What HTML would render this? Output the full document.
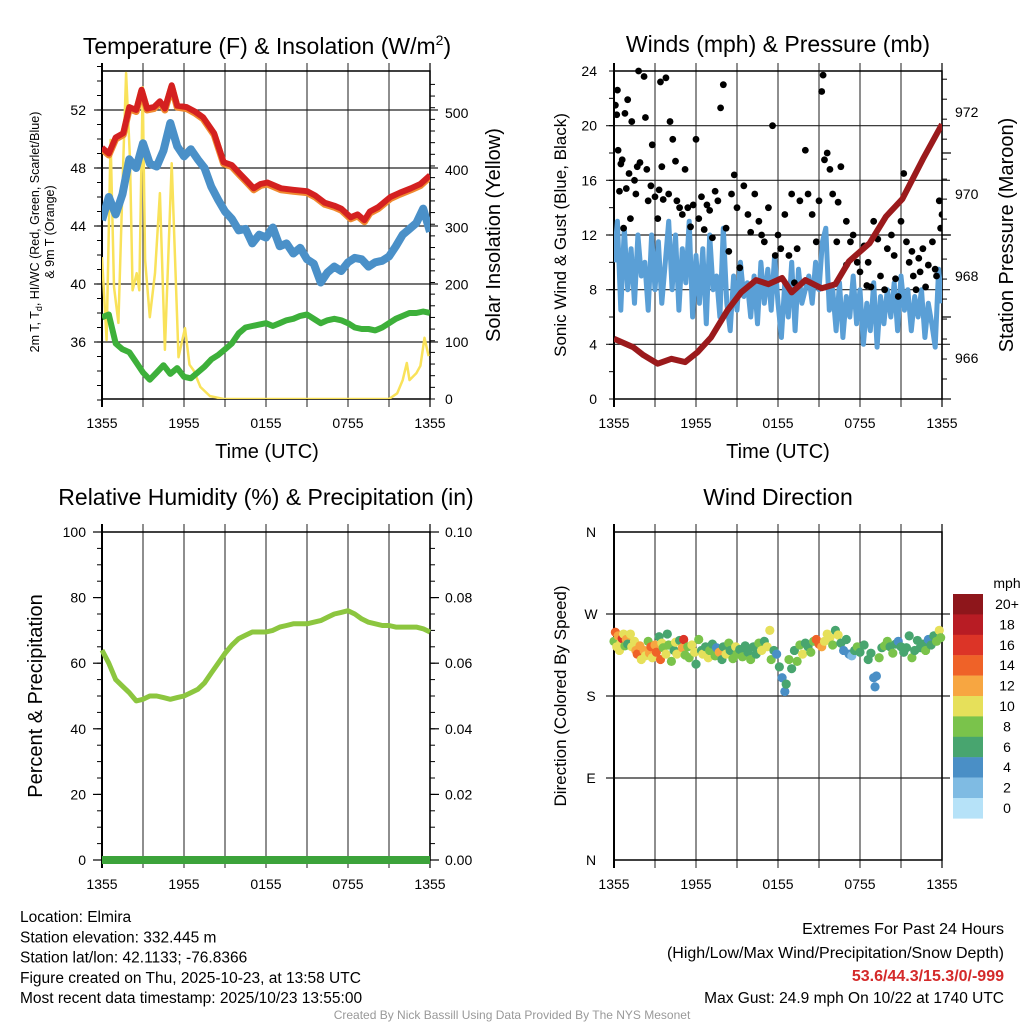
<!DOCTYPE html>
<html><head><meta charset="utf-8">
<style>
html,body{margin:0;padding:0;background:#fff;}
svg{display:block;font-family:"Liberation Sans",Arial,sans-serif;}
</style></head>
<body>
<svg id="root" width="1024" height="1024" viewBox="0 0 1024 1024" xmlns="http://www.w3.org/2000/svg"></svg>
<script>
// ---------- DATA ----------
const xTickLabels = ["1355","1955","0155","0755","1355"];
// Temperature panel
const redTimes = [0,0.5,1,1.56,2,2.5,2.9,3.3,3.8,4.24,4.6,5.1,5.5,6.2,6.8,7.4,8.2,8.9,9.5,10.1,10.6,11.1,11.6,12.1,13.1,14,15,15.6,16.3,17,17.5,18.2,18.7,19.2,19.6,20.2,21.1,21.8,22.6,23.3,24];
const redTemp = [49.4,49.0,50.1,50.4,52.2,52.0,53.4,52.1,52.2,52.6,52.1,53.7,52.3,52.2,51.9,51.5,50.4,48.4,48.2,47.6,47.1,46.6,46.9,47.0,46.6,46.5,46.4,46.1,45.6,45.4,45.2,44.6,44.8,44.4,45.0,45.3,46.0,46.3,46.6,46.9,47.5];
const halfHourTimes = [0,0.5,1,1.5,2,2.5,3,3.5,4,4.5,5,5.5,6,6.5,7,7.5,8,8.5,9,9.5,10,10.5,11,11.5,12,12.5,13,13.5,14,14.5,15,15.5,16,16.5,17,17.5,18,18.5,19,19.5,20,20.5,21,21.5,22,22.5,23,23.5,24];
const blueTemp = [44.4,46.0,44.8,46.2,48.6,48.0,49.7,48.3,48.1,49.2,51.1,49.5,48.8,49.3,48.6,48.0,46.7,45.8,45.0,44.5,43.7,43.8,42.8,43.4,43.2,43.9,42.6,42.8,42.1,42.5,41.7,41.4,40.1,40.8,41.2,40.9,41.5,41.8,41.7,41.2,41.5,41.6,41.9,42.6,43.4,43.8,44.2,45.2,43.6];
const greenDew = [37.7,37.9,35.9,35.5,35.3,34.6,33.9,33.4,33.9,34.4,33.8,34.2,33.6,33.5,33.9,34.3,34.8,35.1,35.5,35.9,36.6,37.0,37.1,37.2,37.3,37.1,37.3,37.5,37.6,37.8,37.9,37.6,37.3,37.5,37.6,37.5,37.3,37.0,36.9,36.9,36.8,37.0,37.3,37.6,37.8,38.0,38.0,38.1,38.0];
const solarTimes = [0,0.34,0.63,0.88,1.2,1.56,1.76,2.05,2.24,2.54,2.73,2.98,3.15,3.5,3.88,4.24,4.6,5.1,5.6,6.07,6.4,6.7,7.2,7.9,8.9,21.0,21.6,22.0,22.3,22.5,23.0,23.3,23.6,23.9];
const solarVals = [248,103,453,196,133,418,570,418,190,220,190,545,243,143,220,360,86,412,73,124,60,50,21,5,0,0,10,33,63,33,45,58,107,75];
// Winds panel
const quarterTimes = Array.from({length:97},(_, i)=>i*0.25);
const sonicWind = [10,13,6.5,12.5,8,11,7,12,9, 10,6.5,12,8,11.5,7,10,13, 8,12,6.5,11,8.5,13,6,10.5, 7,11,5.5,12,8,9,6,12.5, 7,5,9,6.5,10,7.5,8.5,6, 9,5.5,10,7,9.5,6.5,10.5,7, 4.5,8.5,6,10,5,9.5,7,8, 9,7,10,8,11.5,12.5,6.5,8, 5,8.5,4.5,7.5,6,9,5.5,8, 4,7,5,8.5,3.8,7.5,5.5,8, 6,8.5,5,9,6.5,8,5,7.5, 6,8,4.5,7,5.5,3.8,9.5,7];
const gustTimes = [0.1,0.2,0.25,0.3,0.4,0.5,0.6,0.7,0.8,0.9,1.0,1.1,1.2,1.3,1.5,1.6,1.7,1.8,1.9,2.2,2.3,2.4,2.5,2.7,2.8,3.0,3.2,3.3,3.4,3.5,3.6,3.8,4.0,4.1,4.3,4.5,4.6,4.8,5.0,5.2,5.4,5.6,5.8,6.0,6.2,6.4,6.6,6.8,7.0,7.2,7.4,7.6,7.8,8.0,8.2,8.4,8.6,8.8,9.0,9.2,9.5,9.8,10.0,10.3,10.6,10.8,11.0,11.3,11.6,11.8,12.0,12.2,12.5,12.8,13.0,13.2,13.4,13.6,14.0,14.2,14.5,14.8,15.0,15.2,15.3,15.4,15.6,15.8,16.0,16.4,16.6,17.0,17.3,17.5,17.8,18.0,18.3,18.6,18.8,19.0,19.3,19.5,19.8,20.0,20.3,20.5,20.8,21.0,21.2,21.4,21.6,21.9,22.1,22.3,22.6,22.8,23.0,23.3,23.6,23.8,23.9,24,23.5,22.4,21.8,20.6,18.5,17.0,16.3];
const gustVals = [21.5,20.8,22.6,18.2,15.2,17.2,17.5,12.5,20.9,15.4,21.9,16.5,13.2,20.3,16.0,15.0,17.0,24.0,17.3,23.6,20.6,16.8,14.5,15.6,18.6,14.8,13.2,15.3,23.2,17.0,14.6,23.5,15.0,20.3,19.0,17.4,14.5,14.0,13.5,16.8,14.0,12.6,14.2,19.0,13.2,14.8,12.4,14.2,13.8,11.8,15.2,14.5,21.3,23.0,12.5,10.8,15.0,16.4,14.0,9.6,15.6,13.5,12.2,15.0,13.0,12.0,11.5,14.0,20.0,10.5,12.0,11.0,13.5,10.5,15.0,8.5,11.0,14.5,18.2,15.0,13.5,11.5,14.5,22.5,23.7,17.5,18.0,16.8,15.0,14.4,17.0,13.0,11.5,12.0,10.0,9.3,11.2,10.0,8.2,13.0,11.7,9.0,8.0,11.0,12.0,10.5,7.5,13.0,16.5,11.5,10.0,9.0,8.0,10.3,11.0,8.2,9.8,11.5,9.0,14.5,12.5,13.5,9.5,9.3,10.8,8.8,8.3,9.8,11.5];
const pressTimes = [0,1.41,2.15,3.2,4.2,5.2,6.1,7.1,8.3,9.3,10.4,11.3,12.3,13,14,15.2,16.2,17.2,18.7,19.9,21.1,22.6,24];
const pressVals = [966.47,966.26,966.07,965.86,965.98,965.9,966.14,966.5,967.16,967.6,967.9,967.8,967.95,967.6,967.9,967.7,967.8,968.36,968.8,969.45,969.88,970.85,971.7];
// RH panel
const rhVals = [64,60,55,53,51,48.5,49,50,50,49.5,49,49.5,50,51,52,54,57,60,63,65.5,67.5,68.5,69.5,69.5,69.5,70,71,71.5,72,72,72,72.5,73,74,75,75.5,76,75,73.5,72.5,72,71.5,71.5,71,71,71,71,70.5,69.5];
const precipVals = [0,0,0,0,0,0,0,0,0,0,0,0,0,0,0,0,0,0,0,0,0,0,0,0,0,0,0,0,0,0,0,0,0,0,0,0,0,0,0,0,0,0,0,0,0,0,0,0,0];
// Wind direction panel
const dirTimes = [0.0,0.1,0.2,0.3,0.4,0.5,0.6,0.7,0.8,0.9,1.0,1.2,1.3,1.5,1.6,1.7,1.9,2.0,2.2,2.3,2.5,2.6,2.7,2.8,3.0,3.1,3.3,3.4,3.5,3.6,3.8,3.9,4.0,4.2,4.4,4.5,4.6,4.8,5.0,5.1,5.2,5.4,5.5,5.7,5.9,6.0,6.2,6.4,6.5,6.7,6.9,7.0,7.2,7.4,7.5,7.7,7.9,8.0,8.2,8.4,8.5,8.7,8.9,9.0,9.2,9.4,9.6,9.8,10.0,10.2,10.4,10.6,10.8,11.0,11.2,11.4,11.5,11.7,11.9,12.1,12.3,12.5,12.6,12.8,13.0,13.2,13.4,13.6,13.8,14.0,14.2,14.4,14.6,14.8,15.0,15.2,15.4,15.6,15.8,16.0,16.2,16.4,16.6,16.8,17.0,17.2,17.4,17.6,17.8,18.0,18.3,18.6,18.8,19.0,19.1,19.2,19.4,19.6,19.8,20.0,20.2,20.4,20.6,20.8,21.0,21.2,21.4,21.6,21.8,22.0,22.2,22.4,22.6,22.8,23.0,23.2,23.4,23.6,23.8,23.9];
const dirDeg = [240,250,234,246,230,238,243,248,235,242,237,248,234,240,230,226,235,220,230,224,240,227,234,222,236,228,245,220,238,233,226,248,236,218,230,239,226,241,233,242,225,234,222,236,228,215,242,230,226,234,222,230,237,224,233,228,220,234,226,238,230,221,234,226,231,223,235,228,220,234,226,238,230,240,234,252,220,230,226,212,200,185,193,220,210,230,218,236,226,238,234,228,240,242,237,234,240,248,244,236,252,247,238,230,242,226,224,230,234,228,236,220,227,200,190,202,222,233,235,240,234,227,237,240,234,228,233,246,222,230,241,233,237,230,242,236,246,240,252,244];
const dirSpeed = [9,15,10,13,10,11,16,10,8,12,7,11,11,10,13,14,12,10,13,10,8,12,14,10,12,15,7,14,10,8,11,6,8,8,7,10,11,7,13,16,9,8,9,10,10,7,8,7,10,6,11,9,6,8,5,13,6,7,10,8,6,8,10,9,7,8,6,7,8,7,6,8,10,6,10,10,8,6,5,6,4,4,6,8,7,7,8,8,10,7,6,8,8,14,15,13,10,10,10,8,6,10,6,4,6,4,3,6,8,6,6,6,6,4,4,4,8,6,8,8,6,8,6,5,6,6,6,6,8,6,6,6,6,8,4,6,6,8,10,8];
const speedLegendLabels = ["20+","18","16","14","12","10","8","6","4","2","0"];
const speedColors = ["#8e161b","#b81c24","#dc3427","#ef6228","#f7a641","#e6e05a","#7ac34b","#48a56f","#4a8fc6","#7fbbe3","#b6e2f8"];

// ---------- HELPERS ----------
const NS = "http://www.w3.org/2000/svg";
const root = document.getElementById("root");
function mk(tag, attrs, parent){
  const e = document.createElementNS(NS, tag);
  for (const k in attrs) e.setAttribute(k, attrs[k]);
  (parent||root).appendChild(e);
  return e;
}
function txt(str, x, y, size, anchor, parent, extra){
  const t = mk("text", Object.assign({x:x, y:y, "font-size":size, "text-anchor":anchor||"middle", fill:"#000"}, extra||{}), parent);
  t.textContent = str;
  return t;
}
function rtxt(str, cx, cy, size, parent){
  const t = mk("text", {x:0, y:0, "font-size":size, "text-anchor":"middle", fill:"#000", transform:`translate(${cx},${cy}) rotate(-90)`}, parent);
  t.textContent = str;
  return t;
}
function scale(d0,d1,r0,r1){ return v => r0 + (v-d0)*(r1-r0)/(d1-d0); }
function linePath(xs, ys, fx, fy){
  return xs.map((t,i)=>(i?"L":"M")+fx(t).toFixed(1)+","+fy(ys[i]).toFixed(1)).join("");
}
function grid(g, L, R, T, B, hYs){
  for (let i=0;i<=8;i++){
    const x = L + (R-L)*i/8;
    const ln = mk("line",{x1:x,x2:x,y1:T-8,y2:B+8,stroke:(i===0||i===8)?"#000":"#444","stroke-width":(i===0)?2:1.2}, g);
    
    
  }
  hYs.forEach(y=>{
    const ln = mk("line",{x1:L-8,x2:R+8,y1:y,y2:y,stroke:"#222","stroke-width":1.2}, g);
    
    
  });
  const fr = mk("rect",{x:L,y:T,width:R-L,height:B-T,fill:"none",stroke:"#000","stroke-width":1.5}, g);
  
  
}
function xLabels(g, L, R, y){
  xTickLabels.forEach((s,i)=>{
    const t = txt(s, L+(R-L)*i/4, y, 14, "middle", g);
    
    
  });
}
function minorTicks(g, x, y0, y1, n, dir){
  for (let i=0;i<=n;i++){
    const y = y0 + (y1-y0)*i/n;
    const ln = mk("line",{x1:x,x2:x+dir*5,y1:y,y2:y,stroke:"#000","stroke-width":1}, g);
    
    
  }
}

// ---------- PANEL 1: Temperature ----------
{
  const g = mk("g",{});
  
  
  const L=102,R=430,T=71,B=399;
  const fx = scale(0,24,L,R);
  const fy = scale(36,52,342,110);
  const fs = scale(0,500,399,113);
  grid(g,L,R,T,B,[52,48,44,40,36].map(fy));
  minorTicks(g, L, fy(55), fy(32), 23, -1);
  minorTicks(g, R, fs(0), fs(550), 27, 1);
  [52,48,44,40,36].forEach(v=>{ const t=txt(String(v),86,fy(v)+5,14,"end",g);   });
  [0,100,200,300,400,500].forEach(v=>{ const t=txt(String(v),445,fs(v)+5,14,"start",g);   });
  xLabels(g,L,R,428);
  const clip = mk("clipPath",{id:"c1"},g); mk("rect",{x:L,y:T,width:R-L,height:B-T},clip);
  const pg = mk("g",{"clip-path":"url(#c1)"},g);
  const ps = mk("path",{d:linePath(solarTimes,solarVals,fx,fs),fill:"none",stroke:"#f9e25a","stroke-width":2.5,"stroke-linejoin":"round"},pg);
  
  
  const pb = mk("path",{d:linePath(halfHourTimes,blueTemp,fx,fy),fill:"none",stroke:"#4a90c8","stroke-width":8,"stroke-linejoin":"round"},pg);
  
  
  const po = mk("path",{d:linePath(redTimes,redTemp,fx,fy),fill:"none",stroke:"#f08a30","stroke-width":7,"stroke-linejoin":"round",transform:"translate(0,1.5)"},pg);
  
  
  const pr = mk("path",{d:linePath(redTimes,redTemp,fx,fy),fill:"none",stroke:"#d42020","stroke-width":6,"stroke-linejoin":"round"},pg);
  
  
  const pgn = mk("path",{d:linePath(halfHourTimes,greenDew,fx,fy),fill:"none",stroke:"#3db03a","stroke-width":6,"stroke-linejoin":"round"},pg);
  
  
  const tt = mk("text",{x:267,y:54,"font-size":23,"text-anchor":"middle"},g);
  tt.innerHTML = 'Temperature (F) &amp; Insolation (W/m<tspan font-size="14" dy="-9">2</tspan><tspan dy="9">)</tspan>';
  
  
  const xl = txt("Time (UTC)",267,458,20,"middle",g);
  
  
  const yl1 = mk("text",{x:0,y:0,"font-size":12.5,"text-anchor":"middle",transform:"translate(39,232) rotate(-90)"},g);
  yl1.innerHTML = '2m T, T<tspan font-size="9" dy="3">d</tspan><tspan dy="-3">, HI/WC (Red, Green, Scarlet/Blue)</tspan>';
  
  
  const yl2 = rtxt("& 9m T (Orange)",54,232,12.5,g);
  
  
  const yr = rtxt("Solar Insolation (Yellow)",0,0,20,g);
  yr.setAttribute("transform","translate(500,235) rotate(-90)");
  
  
}

// ---------- PANEL 2: Winds ----------
{
  const g = mk("g",{});
  
  
  const L=614,R=942,T=71,B=399;
  const fx = scale(0,24,L,R);
  const fy = scale(0,24,B,T);
  const fp = scale(966,972,358,112);
  grid(g,L,R,T,B,[20,16,12,8,4].map(fy));
  minorTicks(g, L, fy(0), fy(24), 12, -1);
  minorTicks(g, R, fp(965), fp(972.8), 16, 1);
  [0,4,8,12,16,20,24].forEach(v=>{ const t=txt(String(v),597,fy(v)+5,14,"end",g);   });
  [966,968,970,972].forEach(v=>{ const t=txt(String(v),955,fp(v)+5,14,"start",g);   });
  [965,967,969,971].forEach(v=>{ const ln=mk("line",{x1:R,x2:R+9,y1:fp(v),y2:fp(v),stroke:"#000","stroke-width":1.2},g);   });
  xLabels(g,L,R,428);
  const clip = mk("clipPath",{id:"c2"},g); mk("rect",{x:L,y:T-4,width:R-L,height:B-T+4},clip);
  const pg = mk("g",{"clip-path":"url(#c2)"},g);
  const pw = mk("path",{d:linePath(quarterTimes,sonicWind,fx,fy),fill:"none",stroke:"#5a9fd6","stroke-width":5,"stroke-linejoin":"round"},pg);
  
  
  gustTimes.forEach((t,i)=>{
    const c = mk("circle",{cx:fx(t),cy:fy(gustVals[i]),r:3.4,fill:"#000"},pg);
    
    
  });
  const pp = mk("path",{d:linePath(pressTimes,pressVals,fx,fp),fill:"none",stroke:"#9b1a1c","stroke-width":6,"stroke-linejoin":"round"},pg);
  
  
  const tt = txt("Winds (mph) & Pressure (mb)",778,52,23,"middle",g);
  
  
  const xl = txt("Time (UTC)",778,458,20,"middle",g);
  
  
  const yl = rtxt("Sonic Wind & Gust (Blue, Black)",566,235,17,g);
  
  
  const yr = rtxt("Station Pressure (Maroon)",1013,235,20,g);
  
  
}

// ---------- PANEL 3: RH ----------
{
  const g = mk("g",{});
  
  
  const L=102,R=430,T=532,B=860;
  const fx = scale(0,24,L,R);
  const fy = scale(0,100,B,T);
  const fpr = scale(0,0.1,B,T);
  grid(g,L,R,T,B,[]);
  minorTicks(g, L, fy(0), fy(100), 20, -1);
  minorTicks(g, R, fy(0), fy(100), 20, 1);
  [0,20,40,60,80,100].forEach(v=>{ const t=txt(String(v),86,fy(v)+5,14,"end",g);   const ln=mk("line",{x1:L-9,x2:L,y1:fy(v),y2:fy(v),stroke:"#000","stroke-width":1.2},g);   });
  ["0.00","0.02","0.04","0.06","0.08","0.10"].forEach((s,i)=>{ const t=txt(s,445,fpr(i*0.02)+5,14,"start",g);   const ln=mk("line",{x1:R,x2:R+9,y1:fpr(i*0.02),y2:fpr(i*0.02),stroke:"#000","stroke-width":1.2},g);   });
  xLabels(g,L,R,889);
  const prl = mk("path",{d:linePath(halfHourTimes,precipVals,fx,fpr),fill:"none",stroke:"#3ca33a","stroke-width":8},g);
  
  
  const rh = mk("path",{d:linePath(halfHourTimes,rhVals,fx,fy),fill:"none",stroke:"#8cc63f","stroke-width":5,"stroke-linejoin":"round"},g);
  
  
  const tt = txt("Relative Humidity (%) & Precipitation (in)",266,505,23,"middle",g);
  
  
  const yl = rtxt("Percent & Precipitation",42,696,20,g);
  
  
}

// ---------- PANEL 4: Wind Direction ----------
{
  const g = mk("g",{});
  
  
  const L=614,R=942,T=532,B=860;
  const fx = scale(0,24,L,R);
  const fy = scale(0,360,B,T);
  grid(g,L,R,T,B,[90,180,270].map(fy));
  ["N","E","S","W","N"].forEach((s,i)=>{ const t=txt(s,591,fy(i*90)+5,14,"middle",g);   });
  xLabels(g,L,R,889);
  dirTimes.forEach((t,i)=>{
    const sp = dirSpeed[i];
    const idx = Math.max(0, 10 - Math.min(10, Math.floor(sp/2)));
    const c = mk("circle",{cx:fx(t),cy:fy(dirDeg[i]),r:4.6,fill:speedColors[idx]},g);
    
    
  });
  const tt = txt("Wind Direction",778,505,23,"middle",g);
  
  
  const yl = rtxt("Direction (Colored By Speed)",566,696,17,g);
  
  
  const lg = mk("g",{},g);
  
  
  const mph = txt("mph",1007,588,14,"middle",lg);
  
  
  speedLegendLabels.forEach((s,i)=>{
    const y = 594 + i*20.4;
    const r = mk("rect",{x:953,y:y,width:30,height:20.6,fill:speedColors[i]},lg);
    
    
    const t = txt(s,1007,y+15,14,"middle",lg);
    
    
  });
}

// ---------- FOOTER ----------
{
  const g = mk("g",{});
  
  
  ["Location: Elmira","Station elevation: 332.445 m","Station lat/lon: 42.1133; -76.8366","Figure created on Thu, 2025-10-23, at 13:58 UTC","Most recent data timestamp: 2025/10/23 13:55:00"].forEach((s,i)=>{
    const t = txt(s,20,922+i*20.3,15.5,"start",g);
    
    
  });
  const e1 = txt("Extremes For Past 24 Hours",1004,934,16,"end",g);
  
  
  const e2 = txt("(High/Low/Max Wind/Precipitation/Snow Depth)",1004,958,16,"end",g);
  
  
  const e3 = txt("53.6/44.3/15.3/0/-999",1004,981,16,"end",g,{fill:"#d42a2a","font-weight":"bold"});
  
  
  const e4 = txt("Max Gust: 24.9 mph On 10/22 at 1740 UTC",1004,1003,15.5,"end",g);
  
  
  const cr = txt("Created By Nick Bassill Using Data Provided By The NYS Mesonet",512,1019,12,"middle",g,{fill:"#999"});
  
  
}
</script>
</body></html>
